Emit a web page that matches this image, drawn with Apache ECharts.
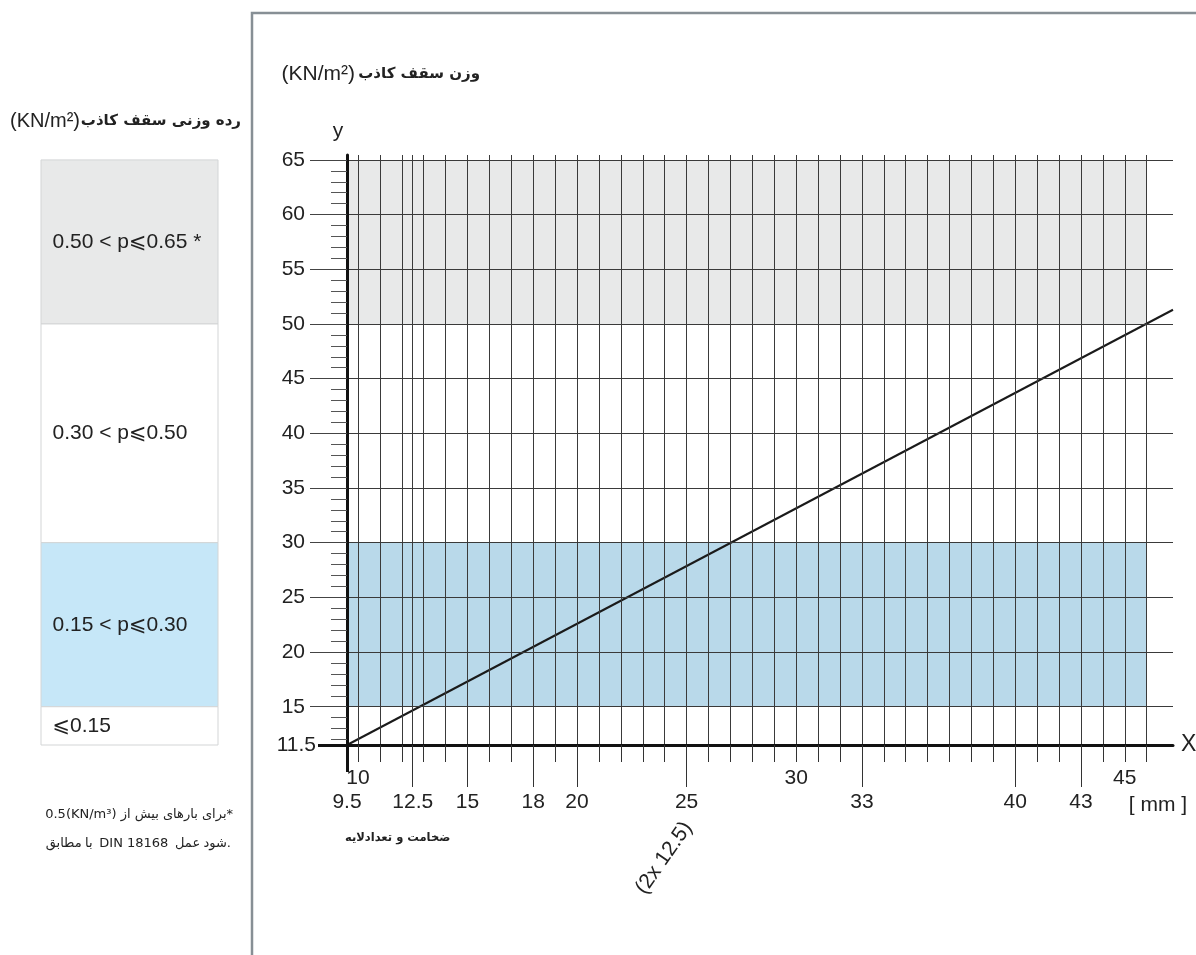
<!DOCTYPE html>
<html>
<head>
<meta charset="utf-8">
<script src="https://cdn.jsdelivr.net/npm/echarts@6.0.0/dist/echarts.min.js"></script>
<style>
  html, body { margin: 0; padding: 0; background: #fff; }
  #chart { width: 1196px; height: 955px; }
</style>
</head>
<body>
<div id="chart"></div>
<script>
// axis extents (thickness in mm, ceiling weight)
const xRange = [9.5, 47.2];
const yRange = [11.5, 65.45];

// vertical grid lines and ticks under the x axis
const xGridLines = [10, 11, 12, 12.5, 13, 14, 15, 16, 17, 18, 19, 20, 21, 22, 23, 24, 25, 26, 27, 28,
  29, 30, 31, 32, 33, 34, 35, 36, 37, 38, 39, 40, 41, 42, 43, 44, 45, 46];
const xShortTicks = [10, 11, 12, 13, 14, 15, 16, 17, 18, 19, 20, 21, 22, 23, 24, 25, 26, 27, 28,
  29, 30, 31, 32, 33, 34, 35, 36, 37, 38, 39, 40, 41, 42, 43, 44, 45, 46];
const xShortLabels = [10, 30, 45];
const xLongTicks = [12.5, 15, 18, 20, 25, 33, 40, 43];
const xLongLabels = [9.5, 12.5, 15, 18, 20, 25, 33, 40, 43];

// horizontal grid lines and minor ticks on the y axis
const yGridLines = [15, 20, 25, 30, 35, 40, 45, 50, 55, 60, 65];
const yMinorTicks = [12, 13, 14, 16, 17, 18, 19, 21, 22, 23, 24, 26, 27, 28, 29, 31, 32, 33, 34,
  36, 37, 38, 39, 41, 42, 43, 44, 46, 47, 48, 49, 51, 52, 53, 54, 56, 57, 58, 59, 61, 62, 63, 64];
const yBaseTick = [11.5];

// the weight line
const weightLine = [[9.5, 11.5], [47.2, 51.3]];

// shaded bands in the chart
const chartBands = [[50, 65], [15, 30]];
const bandEndX = 46;

// weight class table on the left
const legendBands = [[50, 65], [30, 50], [15, 30], [11.5, 15]];
const legendLabels = ['0.50 < p⩽0.65 *', '0.30 < p⩽0.50', '0.15 < p⩽0.30', '⩽0.15'];

const FONT = 'Liberation Sans, Arial, DejaVu Sans, sans-serif';
const FA_FONT = 'DejaVu Sans, Liberation Sans, sans-serif';
const chartBandColors = ['#e8e9e9', '#b9d9ea'];
const legendColors = ['#e8e9e9', '#ffffff', '#c6e7f8', '#ffffff'];

const tickText = { fontFamily: FONT, fontSize: 21, color: '#222' };

const chart = echarts.init(document.getElementById('chart'));

chart.setOption({
  animation: false,
  backgroundColor: '#fff',
  grid: [
    { left: 347, right: 23, top: 155, bottom: 210, outerBoundsMode: 'none' },
    { left: 41, width: 177, top: 155, bottom: 210, outerBoundsMode: 'none' }
  ],
  xAxis: [
    {
      gridIndex: 0, type: 'value', min: xRange[0], max: xRange[1], position: 'bottom', z: 10,
      axisLine: { show: true, onZero: false, lineStyle: { color: '#111', width: 3 } },
      axisTick: { show: true, customValues: xShortTicks, length: 17, lineStyle: { color: '#333', width: 1 } },
      axisLabel: { show: true, customValues: xShortLabels, margin: 23, ...tickText },
      splitLine: { show: false },
      name: 'X', nameLocation: 'end', nameGap: 8,
      nameTextStyle: { fontFamily: FONT, fontSize: 23, color: '#222' }
    },
    {
      gridIndex: 0, type: 'value', min: xRange[0], max: xRange[1], position: 'bottom', z: 10,
      axisLine: { show: false },
      axisTick: { show: true, customValues: xLongTicks, length: 42, lineStyle: { color: '#333', width: 1 } },
      axisLabel: { show: true, customValues: xLongLabels, margin: 47, ...tickText },
      splitLine: { show: false }
    },
    {
      gridIndex: 0, type: 'value', min: xRange[0], max: xRange[1], position: 'bottom', z: 10,
      axisLine: { show: false },
      axisTick: { show: true, customValues: [xRange[0]], length: 27, lineStyle: { color: '#111', width: 3 } },
      axisLabel: { show: false },
      splitLine: { show: false }
    },
    { gridIndex: 1, type: 'value', min: 0, max: 1, show: false }
  ],
  yAxis: [
    {
      gridIndex: 0, type: 'value', min: yRange[0], max: yRange[1], position: 'left', z: 10,
      axisLine: { show: true, onZero: false, lineStyle: { color: '#111', width: 3 } },
      axisTick: { show: true, customValues: yGridLines, length: 37, lineStyle: { color: '#444', width: 1 } },
      axisLabel: { show: true, customValues: yGridLines, margin: 42, ...tickText },
      splitLine: { show: false }
    },
    {
      gridIndex: 0, type: 'value', min: yRange[0], max: yRange[1], position: 'left', z: 10,
      axisLine: { show: false },
      axisTick: { show: true, customValues: yMinorTicks, length: 16, lineStyle: { color: '#555', width: 1 } },
      axisLabel: { show: false },
      splitLine: { show: false }
    },
    {
      gridIndex: 0, type: 'value', min: yRange[0], max: yRange[1], position: 'left', z: 10,
      axisLine: { show: false },
      axisTick: { show: true, customValues: yBaseTick, length: 29, lineStyle: { color: '#111', width: 3 } },
      axisLabel: { show: true, customValues: yBaseTick, margin: 31, ...tickText },
      splitLine: { show: false }
    },
    { gridIndex: 1, type: 'value', min: yRange[0], max: yRange[1], show: false }
  ],
  series: [
    {
      name: 'bands', type: 'line', xAxisIndex: 0, yAxisIndex: 0, data: [], z: 1,
      markArea: {
        silent: true,
        data: chartBands.map((b, i) => [
          { xAxis: xRange[0], yAxis: b[0], itemStyle: { color: chartBandColors[i] } },
          { xAxis: bandEndX, yAxis: b[1] }
        ])
      }
    },
    {
      name: 'grid', type: 'line', xAxisIndex: 0, yAxisIndex: 0, data: [], z: 2,
      markLine: {
        silent: true,
        symbol: ['none', 'none'],
        label: { show: false },
        lineStyle: { color: '#3a3a3a', width: 1, type: 'solid' },
        data: [
          ...xGridLines.map(v => ({ xAxis: v })),
          ...yGridLines.map(v => ({ yAxis: v }))
        ]
      }
    },
    {
      name: 'weight', type: 'line', xAxisIndex: 0, yAxisIndex: 0, z: 3,
      data: weightLine, symbol: 'none',
      lineStyle: { color: '#1a1a1a', width: 2 }
    },
    {
      name: 'legend', type: 'line', xAxisIndex: 3, yAxisIndex: 3, data: [],
      markArea: {
        silent: true,
        itemStyle: { borderColor: '#d3d5d6', borderWidth: 1 },
        label: { show: true, position: 'insideLeft', distance: 12, fontFamily: FONT, fontSize: 21, color: '#222' },
        data: legendBands.map((b, i) => [
          { name: legendLabels[i], xAxis: 0, yAxis: b[0], itemStyle: { color: legendColors[i] } },
          { xAxis: 1, yAxis: b[1] }
        ])
      }
    }
  ],
  graphic: [
    {
      type: 'polyline', silent: true,
      shape: { points: [[252, 955], [252, 13], [1196, 13]] },
      style: { stroke: '#878f95', lineWidth: 2.5, fill: null }
    },
    // chart title
    {
      type: 'text', x: 355, y: 74,
      style: { text: '(KN/m²)', font: '21px ' + FONT, fill: '#222', align: 'right', verticalAlign: 'middle' }
    },
    {
      type: 'text', x: 480, y: 74,
      style: { text: 'وزن سقف کاذب', font: 'bold 15px ' + FA_FONT, fill: '#222', align: 'right', verticalAlign: 'middle' }
    },
    // table title
    {
      type: 'text', x: 80, y: 121,
      style: { text: '(KN/m²)', font: '20px ' + FONT, fill: '#222', align: 'right', verticalAlign: 'middle' }
    },
    {
      type: 'text', x: 241, y: 121,
      style: { text: 'رده وزنی سقف کاذب', font: 'bold 15px ' + FA_FONT, fill: '#222', align: 'right', verticalAlign: 'middle' }
    },
    {
      type: 'text', x: 338, y: 131,
      style: { text: 'y', font: '21px ' + FONT, fill: '#222', align: 'center', verticalAlign: 'middle' }
    },
    {
      type: 'text', x: 1158, y: 805,
      style: { text: '[ mm ]', font: '21px ' + FONT, fill: '#222', align: 'center', verticalAlign: 'middle' }
    },
    {
      type: 'text', x: 345, y: 838,
      style: { text: 'ضخامت و تعدادلایه', font: 'bold 11.5px ' + FA_FONT, fill: '#222', align: 'left', verticalAlign: 'middle' }
    },
    {
      type: 'text', x: 664, y: 858, rotation: 0.96,
      style: { text: '(2x 12.5)', font: '21px ' + FONT, fill: '#222', align: 'center', verticalAlign: 'middle' }
    },
    // footnote
    {
      type: 'text', x: 233, y: 815,
      style: { text: '0.5(KN/m³) برای بارهای بیش از*', font: '13px ' + FA_FONT, fill: '#222', align: 'right', verticalAlign: 'middle' }
    },
    {
      type: 'text', x: 231, y: 844,
      style: {
        text: '{a|مطابق} {a|با}  {a|DIN 18168}  {a|عمل} {a|شود}{a|.}',
        align: 'right', verticalAlign: 'middle',
        rich: { a: { fontFamily: FA_FONT, fontSize: 13, fill: '#222' } }
      }
    }
  ]
});

window.addEventListener('resize', function () {
  chart.resize();
});
</script>
</body>
</html>
